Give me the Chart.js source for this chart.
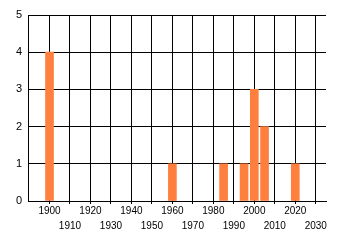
<!DOCTYPE html>
<html lang="en">
<head>
  <meta charset="UTF-8">
  <script src="https://cdn.jsdelivr.net/npm/chart.js"></script>
  <title>Counts by year</title>
  <style>
    body {
      margin: 0;
      background: #ffffff;
    }

    #chart-box {
      width: 340px;
      height: 245px;
    }
  </style>
</head>
<body>
  <div id="chart-box">
    <canvas id="barChart"></canvas>
  </div>

  <script>
    // chart values
    const years = [1900, 1960, 1985, 1995, 2000, 2005, 2020];
    const counts = [4, 1, 1, 1, 3, 2, 1];
    const xTicks = [1900, 1910, 1920, 1930, 1940, 1950, 1960, 1970, 1980, 1990, 2000, 2010, 2020, 2030];
    const yTicks = [0, 1, 2, 3, 4, 5];

    const points = years.map((yr, i) => ({ x: yr, y: counts[i] }));

    new Chart(document.getElementById("barChart"), {
      type: 'bar',
      data: {
        datasets: [{
          data: points,
          backgroundColor: '#ff7f3f',
          borderWidth: 0,
          barThickness: 8
        }]
      },
      options: {
        responsive: true,
        maintainAspectRatio: false,
        animation: false,
        layout: {
          padding: { top: 15, right: 14, bottom: 0, left: 0 }
        },
        plugins: {
          legend: { display: false },
          tooltip: { enabled: false }
        },
        scales: {
          x: {
            type: 'linear',
            min: 1889.5,
            max: 2035,
            offset: false,
            afterBuildTicks: (axis) => {
              axis.ticks = xTicks.map(v => ({ value: v }));
            },
            afterFit: (axis) => { axis.height = 44; },
            grid: {
              offset: false,
              color: '#000000',
              lineWidth: 1,
              tickLength: 3
            },
            border: { color: '#000000' },
            ticks: {
              autoSkip: false,
              maxRotation: 0,
              padding: 0,
              color: '#000000',
              font: { family: 'Liberation Sans', size: 10, lineHeight: 1.5 },
              // alternate labels go on a second row
              callback: (value, index) => index % 2 === 0 ? String(value) : ['', String(value)]
            }
          },
          y: {
            min: 0,
            max: 5,
            afterBuildTicks: (axis) => {
              axis.ticks = yTicks.map(v => ({ value: v }));
            },
            afterFit: (axis) => { axis.width = 28; },
            grid: {
              color: '#000000',
              lineWidth: 1,
              drawTicks: false
            },
            border: { color: '#000000' },
            ticks: {
              padding: 6,
              color: '#000000',
              font: { family: 'Liberation Sans', size: 11 }
            }
          }
        }
      }
    });
  </script>
</body>
</html>
